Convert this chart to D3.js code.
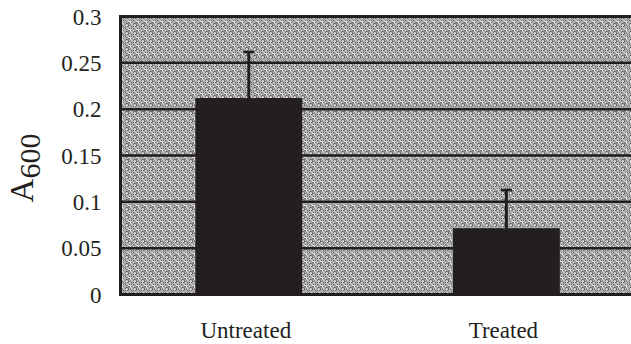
<!DOCTYPE html>
<html>
<head>
<meta charset="utf-8">
<script src="https://cdn.jsdelivr.net/npm/d3@7"></script>
<style>
  html, body { margin: 0; padding: 0; background: #fff; }
  svg { display: block; }
  text { font-family: "Liberation Serif", "Times New Roman", serif; fill: #231f20; }
</style>
</head>
<body>
<svg id="chart" width="631" height="344"></svg>
<script>
const categories = ["Untreated", "Treated"];
const means = [0.212, 0.0715];
const errors = [0.0497, 0.0413];
const yTicks = [0, 0.05, 0.1, 0.15, 0.2, 0.25, 0.3];
const yTickLabels = ["0", "0.05", "0.1", "0.15", "0.2", "0.25", "0.3"];

const plotLeft = 120.5, plotRight = 645, plotTop = 16.5, plotBottom = 294.5;
const ink = "#231f20";

const svg = d3.select("#chart");
const defs = svg.append("defs");
// stippled halftone texture (deterministic 8x8 tile)
const tile = 8;
const pat = defs.append("pattern")
  .attr("id", "stipple").attr("patternUnits", "userSpaceOnUse")
  .attr("width", tile).attr("height", tile);
pat.append("rect").attr("width", tile).attr("height", tile).attr("fill", "#ababab");
for (let py = 0; py < tile; py++) {
  for (let px = 0; px < tile; px++) {
    const h = (px * 7 + py * 13 + px * py * 5) % 11;
    let c = null;
    if (h < 3) c = "#6c6c6c";
    else if (h < 5) c = "#888888";
    else if (h > 8) c = "#dedede";
    else if (h > 6) c = "#c8c8c8";
    if (c) pat.append("rect").attr("x", px).attr("y", py).attr("width", 1).attr("height", 1).attr("fill", c);
  }
}

const x = d3.scaleBand().domain(categories).range([120, 635.2]).paddingInner(0.585).paddingOuter(0.2925);
const y = d3.scaleLinear().domain([0, 0.3]).range([plotBottom, plotTop]);

// background
svg.append("rect")
  .attr("x", plotLeft).attr("y", plotTop)
  .attr("width", plotRight - plotLeft).attr("height", plotBottom - plotTop)
  .attr("fill", "url(#stipple)");

// gridlines
svg.append("g").selectAll("line").data(yTicks).join("line")
  .attr("x1", plotLeft).attr("x2", plotRight)
  .attr("y1", d => y(d)).attr("y2", d => y(d))
  .attr("stroke", ink).attr("stroke-width", d => (d === 0 || d === 0.3) ? 3 : 2.5);

// left border
svg.append("line")
  .attr("x1", plotLeft).attr("x2", plotLeft)
  .attr("y1", plotTop - 1.5).attr("y2", plotBottom + 1.5)
  .attr("stroke", ink).attr("stroke-width", 3);

// y axis labels
const yAxis = d3.axisLeft(y).tickValues(yTicks)
  .tickFormat((d, i) => yTickLabels[i]).tickSize(0).tickPadding(19);
const yg = svg.append("g").attr("transform", `translate(${plotLeft},0)`).call(yAxis);
yg.select(".domain").remove();
yg.selectAll("text")
  .attr("font-family", "Liberation Serif, serif")
  .attr("font-size", 23).attr("fill", ink).attr("dy", "0.34em");

// error bars (upper only)
const eg = svg.append("g");
categories.forEach((c, i) => {
  const cx = x(c) + x.bandwidth() / 2;
  eg.append("line")
    .attr("x1", cx).attr("x2", cx)
    .attr("y1", y(means[i])).attr("y2", y(means[i] + errors[i]))
    .attr("stroke", ink).attr("stroke-width", 3);
  eg.append("line")
    .attr("x1", cx - 5.5).attr("x2", cx + 5.5)
    .attr("y1", y(means[i] + errors[i])).attr("y2", y(means[i] + errors[i]))
    .attr("stroke", ink).attr("stroke-width", 2.5);
});

// bars
svg.append("g").selectAll("rect").data(categories).join("rect")
  .attr("x", d => x(d)).attr("width", x.bandwidth())
  .attr("y", (d, i) => y(means[i]))
  .attr("height", (d, i) => y(0) - y(means[i]))
  .attr("fill", ink);

// x axis labels
const xAxis = d3.axisBottom(x).tickSize(0).tickPadding(0);
const xg = svg.append("g").attr("transform", `translate(-3,${plotBottom})`).call(xAxis);
xg.select(".domain").remove();
xg.selectAll("text")
  .attr("font-family", "Liberation Serif, serif")
  .attr("font-size", 23).attr("fill", ink)
  .attr("dy", 0).attr("y", 43);

// y axis title: A with subscript 600
const title = svg.append("text")
  .attr("transform", "translate(33,168) rotate(-90)")
  .attr("text-anchor", "middle")
  .attr("font-size", 33);
title.append("tspan").text("A");
title.append("tspan").attr("font-size", 30).attr("dy", 7).text("600");
</script>
</body>
</html>
